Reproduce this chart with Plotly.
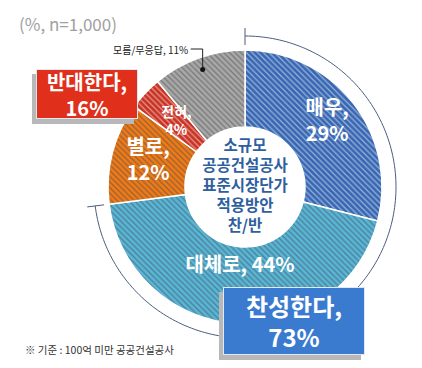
import numpy as np
import plotly.graph_objects as go

# ---- data ----
categories = ["매우", "대체로", "별로", "전혀", "모름/무응답"]
values = [29, 44, 12, 4, 11]
agree_total = 73
disagree_total = 16
bg_colors = ["#3767b3", "#58b6d8", "#ee7b1a", "#c93222", "#a8a8a8"]
fg_colors = ["#5585c8", "#80cbe6", "#f59c50", "#dc5a48", "#c4c4c4"]
center_lines = ["소규모", "공공건설공사", "표준시장단가", "적용방안", "찬/반"]

# ---- geometry (pixel-like polar units) ----
W, H = 422, 368
CX, CY = 237, 179
RMAX = 162
R_OUT, R_IN = 137, 60
R_ARC = 151

vals = np.array(values, dtype=float)
cum = np.cumsum(vals)
start = np.concatenate([[0], cum[:-1]])
mid_deg = (start + vals / 2) * 3.6
width_deg = vals * 3.6

FONT = "Noto Sans CJK KR"

fig = go.Figure()

fig.add_trace(go.Barpolar(
    theta=mid_deg, width=width_deg, r=[R_OUT - R_IN] * len(vals), base=R_IN,
    marker=dict(color=bg_colors, line=dict(color="white", width=1.5),
                pattern=dict(shape="\\", fgcolor=fg_colors, size=4, solidity=0.3,
                             fillmode="overlay")),
    hoverinfo="skip", showlegend=False,
))

# outer arc for agree share
arc_theta = np.linspace(0, agree_total * 3.6, 200)
fig.add_trace(go.Scatterpolar(theta=arc_theta, r=[R_ARC] * len(arc_theta), mode="lines",
                              line=dict(color="#4a5d7e", width=1), hoverinfo="skip", showlegend=False))
for t in [0, agree_total * 3.6]:
    fig.add_trace(go.Scatterpolar(theta=[t, t], r=[R_ARC - 9, R_ARC + 8], mode="lines",
                                  line=dict(color="#4a5d7e", width=1), hoverinfo="skip", showlegend=False))

# slice labels
label_r = [104, 80, 100, 94]
label_text = [f"{categories[0]},<br>{values[0]}%", f"{categories[1]}, {values[1]}%",
              f"{categories[2]},<br>{values[2]}%", f"{categories[3]},<br>{values[3]}%"]
label_size = [20, 20, 20, 14]
for i in range(4):
    fig.add_trace(go.Scatterpolar(theta=[mid_deg[i]], r=[label_r[i]], mode="text",
                                  text=[f"<b>{label_text[i]}</b>"],
                                  textfont=dict(color="white", size=label_size[i], family=FONT, weight=700),
                                  hoverinfo="skip", showlegend=False))

# center text
fig.add_trace(go.Scatterpolar(theta=[0], r=[0], mode="text",
                              text=["<b>" + "<br>".join(center_lines) + "</b>"],
                              textfont=dict(color="#2f5f9e", size=15.5, family=FONT, weight=700),
                              hoverinfo="skip", showlegend=False))

# leader for unknown slice
def to_polar(dx, dy_up):
    r = np.hypot(dx, dy_up)
    th = np.degrees(np.arctan2(dx, dy_up)) % 360
    return th, r

g_th = mid_deg[4]
g_r = 125
dot_dx = g_r * np.sin(np.radians(g_th))
label_up = 138
c_th, c_r = to_polar(dot_dx, label_up)
e_th, e_r = to_polar(dot_dx - 12, label_up)
fig.add_trace(go.Scatterpolar(theta=[e_th, c_th, g_th], r=[e_r, c_r, g_r], mode="lines",
                              line=dict(color="#222", width=1), hoverinfo="skip", showlegend=False))
fig.add_trace(go.Scatterpolar(theta=[g_th], r=[g_r], mode="markers",
                              marker=dict(color="#111", size=5), hoverinfo="skip", showlegend=False))

dom_x = [(CX - RMAX) / W, (CX + RMAX) / W]
dom_y = [1 - (CY + RMAX) / H, 1 - (CY - RMAX) / H]

fig.update_layout(
    width=W, height=H, margin=dict(l=0, r=0, t=0, b=0),
    paper_bgcolor="white", plot_bgcolor="white",
    font=dict(family=FONT),
    polar=dict(domain=dict(x=dom_x, y=dom_y), bgcolor="rgba(0,0,0,0)", hole=0,
               angularaxis=dict(rotation=90, direction="clockwise", visible=False, showgrid=False),
               radialaxis=dict(range=[0, RMAX], visible=False, showgrid=False)),
)

# label for unknown slice
fig.add_annotation(xref="paper", yref="paper", x=(CX + dot_dx - 13) / W, y=1 - (CY - label_up) / H,
                   xanchor="right", yanchor="middle", showarrow=False,
                   text=f"{categories[4]}, {values[4]}%", font=dict(size=10, color="#222", family=FONT))

# title and footnote
fig.add_annotation(xref="paper", yref="paper", x=9 / W, y=1 - 15 / H, xanchor="left", yanchor="middle",
                   showarrow=False, text="(%, n=1,000)", font=dict(size=17, color="#a0a0a0", family=FONT))
fig.add_annotation(xref="paper", yref="paper", x=15 / W, y=1 - 341 / H, xanchor="left", yanchor="middle",
                   showarrow=False, text="※ 기준 : 100억 미만 공공건설공사",
                   font=dict(size=10.5, color="#333", family=FONT))

# boxes with shadows
def box(x0, y0, x1, y1, text, color, size):
    fig.add_shape(type="rect", xref="paper", yref="paper",
                  x0=(x0 - 4) / W, x1=(x1 - 4) / W, y0=1 - (y1 + 5) / H, y1=1 - (y0 + 5) / H,
                  fillcolor="#b8b8b8", line=dict(width=0), layer="above")
    fig.add_annotation(xref="paper", yref="paper", x=(x0 + x1) / 2 / W, y=1 - (y0 + y1) / 2 / H,
                       xanchor="center", yanchor="middle", showarrow=False,
                       width=x1 - x0 - 2, height=y1 - y0 - 2, borderpad=0, borderwidth=1,
                       bordercolor="#dfe8f5", bgcolor=color, align="center",
                       text=f"<b>{text}</b>", font=dict(size=size, color="white", family=FONT, weight=700))

box(28, 61, 130, 111, f"반대한다,<br>{disagree_total}%", "#e0301c", 20)
box(215, 279, 357, 347, f"찬성한다,<br>{agree_total}%", "#3a7bd0", 24)

fig.write_html("out.html")
